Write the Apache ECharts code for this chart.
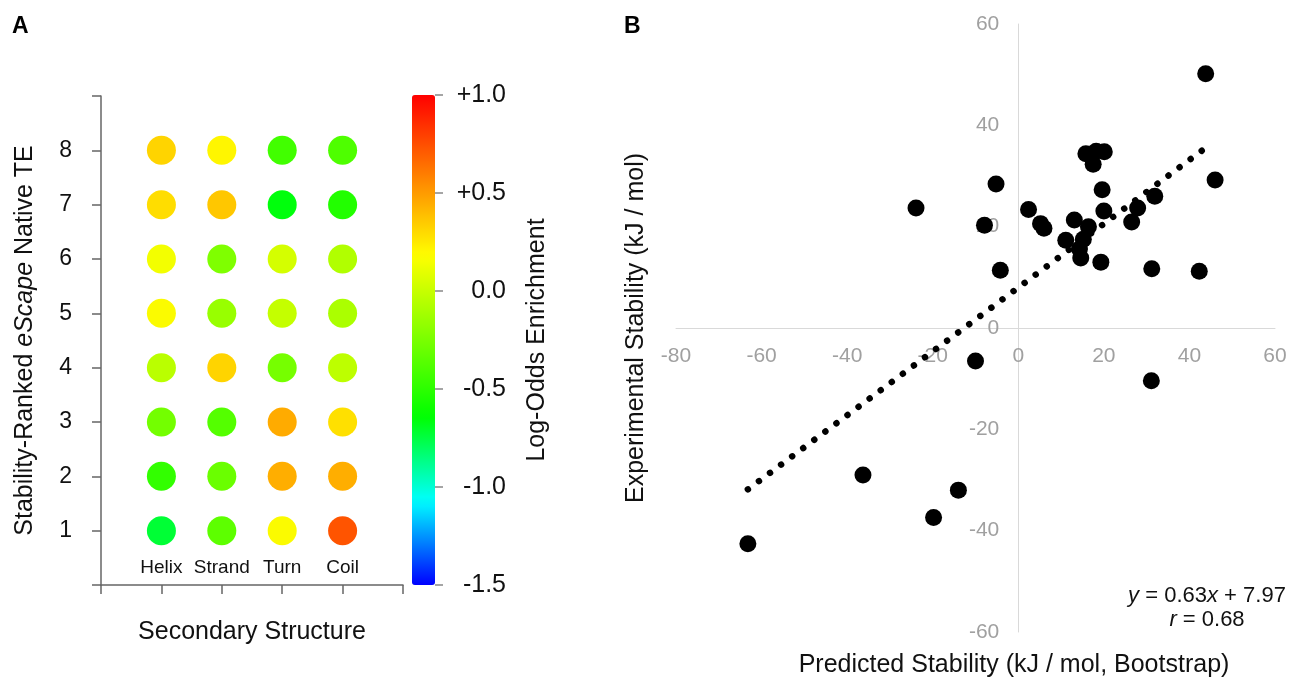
<!DOCTYPE html>
<html><head><meta charset="utf-8">
<script src="https://cdn.jsdelivr.net/npm/echarts@6/dist/echarts.min.js"></script>
<style>html,body{margin:0;padding:0;background:#fff}#c{width:1291px;height:680px}</style>
</head><body><div id="c"></div>
<script>
// ---------- Panel A data ----------
const categories = ['Helix', 'Strand', 'Turn', 'Coil'];
const ranks = [1, 2, 3, 4, 5, 6, 7, 8];
const helixValues  = [-0.73, -0.48, -0.27, -0.04, 0.18, 0.14, 0.29, 0.32];
const strandValues = [-0.34, -0.30, -0.37, 0.32, -0.15, -0.23, 0.36, 0.21];
const turnValues   = [0.18, 0.44, 0.45, -0.26, -0.01, 0.04, -0.66, -0.43];
const coilValues   = [0.73, 0.44, 0.28, -0.03, -0.09, -0.07, -0.53, -0.39];
const colorbarRange = [-1.5, 1.0];

// ---------- Panel B data ----------
const predicted = [-63.2, -36.3, -19.8, -14.0, -10.0, -23.9, -5.2, -7.9, -4.2, 2.4, 5.2, 6.0,
  15.8, 18.2, 20.1, 17.5, 19.6, 20.0, 13.1, 16.4, 11.1, 15.2, 14.3, 14.6, 19.3,
  26.5, 27.9, 31.9, 31.2, 42.3, 43.8, 46.0, 31.1];
const experimental = [-42.6, -29.0, -37.4, -32.0, -6.5, 23.7, 28.4, 20.3, 11.4, 23.4, 20.6, 19.7,
  34.4, 34.9, 34.8, 32.3, 27.3, 23.1, 21.3, 20.0, 17.3, 17.5, 15.6, 13.8, 13.0,
  20.9, 23.7, 26.0, 11.7, 11.2, 50.2, 29.2, -10.4];
const fitSlope = 0.63;
const fitIntercept = 7.97;
const fitRange = [-63.2, 44.6];
const fitR = 0.68;

// ---------- colour ramp (style) ----------
const hueStops = [[-1.5, 240], [-1.07, 180], [-0.64, 120], [0.18, 60], [1.0, 0]];
function hueAt(v) {
  for (let i = 1; i < hueStops.length; i++) {
    const [v0, h0] = hueStops[i - 1], [v1, h1] = hueStops[i];
    if (v <= v1) return h0 + (h1 - h0) * (v - v0) / (v1 - v0);
  }
  return 0;
}
function hueToHex(h) {
  const f = n => { const k = (n + h / 60) % 6; return Math.round(255 * (1 - Math.max(0, Math.min(k, 4 - k, 1)))); };
  return '#' + [f(5), f(3), f(1)].map(x => x.toString(16).padStart(2, '0')).join('');
}
const rampColors = [];
for (let i = 0; i <= 50; i++) rampColors.push(hueToHex(hueAt(colorbarRange[0] + (colorbarRange[1] - colorbarRange[0]) * i / 50)));

const gridValues = [helixValues, strandValues, turnValues, coilValues];
const dotData = [];
categories.forEach((c, ci) => ranks.forEach((r, ri) => dotData.push([ci + 1, r, gridValues[ci][ri]])));
const pointData = predicted.map((x, i) => [x, experimental[i]]);
const fitData = fitRange.map(x => [x, fitSlope * x + fitIntercept]);

const FONT = '"Liberation Sans", Arial, sans-serif';
const axA = { color: '#666', width: 1.5 };
const gridB = { left: 676, top: 24, width: 599, height: 608 };

const chart = echarts.init(document.getElementById('c'), null, { renderer: 'canvas' });
chart.setOption({
  animation: false,
  textStyle: { fontFamily: FONT },
  grid: [
    { left: 101, top: 96, width: 302, height: 489 },
    { left: 412, top: 95, width: 23, height: 490 },
    gridB
  ],
  visualMap: {
    type: 'continuous', seriesIndex: 0, dimension: 2,
    min: colorbarRange[0], max: colorbarRange[1],
    inRange: { color: rampColors },
    left: 412, top: 95, itemWidth: 23, itemHeight: 490, padding: 0,
    calculable: false, hoverLink: false, text: null, orient: 'vertical'
  },
  xAxis: [
    {
      gridIndex: 0, type: 'value', min: 0, max: 5, interval: 1,
      axisLine: { show: true, onZero: false, lineStyle: axA },
      axisTick: { show: true, length: 9, lineStyle: axA },
      axisLabel: { inside: true, margin: 8, fontSize: 19, color: '#111', fontFamily: FONT,
        formatter: v => categories[v - 1] || '' },
      splitLine: { show: false },
      name: 'Secondary Structure', nameLocation: 'middle', nameGap: 35,
      nameTextStyle: { fontSize: 25, color: '#111', fontFamily: FONT }
    },
    { gridIndex: 1, type: 'value', min: 0, max: 1, show: false },
    {
      gridIndex: 2, type: 'value', min: -80, max: 60, interval: 20,
      axisLine: { show: true, onZero: false, lineStyle: { color: '#d9d9d9', width: 1 } },
      axisTick: { show: false },
      axisLabel: { margin: 18, fontSize: 21, color: '#a0a0a0', fontFamily: FONT },
      splitLine: { show: false }
    }
  ],
  yAxis: [
    {
      gridIndex: 0, type: 'value', min: 0, max: 9, interval: 1,
      axisLine: { show: true, onZero: false, lineStyle: axA },
      axisTick: { show: true, length: 9, lineStyle: axA },
      axisLabel: { margin: 29, fontSize: 23, color: '#111', fontFamily: FONT,
        formatter: v => ranks.includes(v) ? String(v) : '' },
      splitLine: { show: false },
      name: '{n|Stability-Ranked }{i|eScape}{n| Native TE}', nameLocation: 'middle', nameGap: 63,
      nameTextStyle: { rich: {
        n: { fontSize: 25, color: '#111', fontFamily: FONT },
        i: { fontSize: 25, color: '#111', fontFamily: FONT, fontStyle: 'italic' } } }
    },
    {
      gridIndex: 1, type: 'value', position: 'right', min: -1.5, max: 1, interval: 0.5,
      axisLine: { show: true, onZero: false, lineStyle: { color: 'rgba(0,0,0,0)', width: 0 } },
      axisTick: { show: true, length: 8, lineStyle: { color: '#888', width: 1.5 } },
      axisLabel: { margin: 71, align: 'right', fontSize: 25, color: '#111', fontFamily: FONT,
        formatter: v => (v > 0 ? '+' : '') + v.toFixed(1) },
      splitLine: { show: false },
      name: 'Log-Odds Enrichment', nameLocation: 'middle', nameRotate: 90, nameGap: 90,
      nameTextStyle: { fontSize: 25, color: '#111', fontFamily: FONT }
    },
    {
      gridIndex: 2, type: 'value', min: -60, max: 60, interval: 20,
      axisLine: { show: true, onZero: false, lineStyle: { color: '#d9d9d9', width: 1 } },
      axisTick: { show: false },
      axisLabel: { margin: 19, fontSize: 21, color: '#a0a0a0', fontFamily: FONT },
      splitLine: { show: false }
    }
  ],
  series: [
    { type: 'scatter', xAxisIndex: 0, yAxisIndex: 0, symbolSize: 29, itemStyle: { opacity: 1 }, data: dotData },
    { type: 'scatter', xAxisIndex: 2, yAxisIndex: 2, symbolSize: 17, itemStyle: { color: '#000', opacity: 1 }, data: pointData, z: 3 },
    { type: 'line', xAxisIndex: 2, yAxisIndex: 2, symbol: 'none', data: fitData, z: 2,
      lineStyle: { color: '#000', width: 6.5, type: [0.01, 13.8], cap: 'round' } }
  ],
  graphic: [
    { type: 'text', x: 12, y: 15, style: { text: 'A', font: 'bold 23px ' + FONT, fill: '#000' } },
    { type: 'text', x: 624, y: 15, style: { text: 'B', font: 'bold 23px ' + FONT, fill: '#000' } },
    { type: 'text', x: 636, y: 328, rotation: Math.PI / 2,
      style: { text: 'Experimental Stability (kJ / mol)', font: '25px ' + FONT, fill: '#111', textAlign: 'center', textVerticalAlign: 'middle' } },
    { type: 'text', x: 1014, y: 665,
      style: { text: 'Predicted Stability (kJ / mol, Bootstrap)', font: '25px ' + FONT, fill: '#111', textAlign: 'center', textVerticalAlign: 'middle' } },
    { type: 'text', x: 1207, y: 596,
      style: { text: '{i|y}{n| = ' + fitSlope.toFixed(2) + '}{i|x}{n| + ' + fitIntercept.toFixed(2) + '}',
        textAlign: 'center', textVerticalAlign: 'middle',
        rich: { n: { font: '22px ' + FONT, fill: '#111' }, i: { font: 'italic 22px ' + FONT, fill: '#111' } } } },
    { type: 'text', x: 1207, y: 620,
      style: { text: '{i|r}{n| = ' + fitR.toFixed(2) + '}',
        textAlign: 'center', textVerticalAlign: 'middle',
        rich: { n: { font: '22px ' + FONT, fill: '#111' }, i: { font: 'italic 22px ' + FONT, fill: '#111' } } } }
  ]
});

// Move panel B's axes (with their labels) onto the zero lines, using the axes' own scales.
const x0 = chart.convertToPixel({ xAxisIndex: 2 }, 0);
const y0 = chart.convertToPixel({ yAxisIndex: 2 }, 0);
chart.setOption({
  xAxis: [{}, {}, { offset: -(gridB.top + gridB.height - y0) }],
  yAxis: [{}, {}, { offset: -(x0 - gridB.left) }]
});
</script></body></html>
